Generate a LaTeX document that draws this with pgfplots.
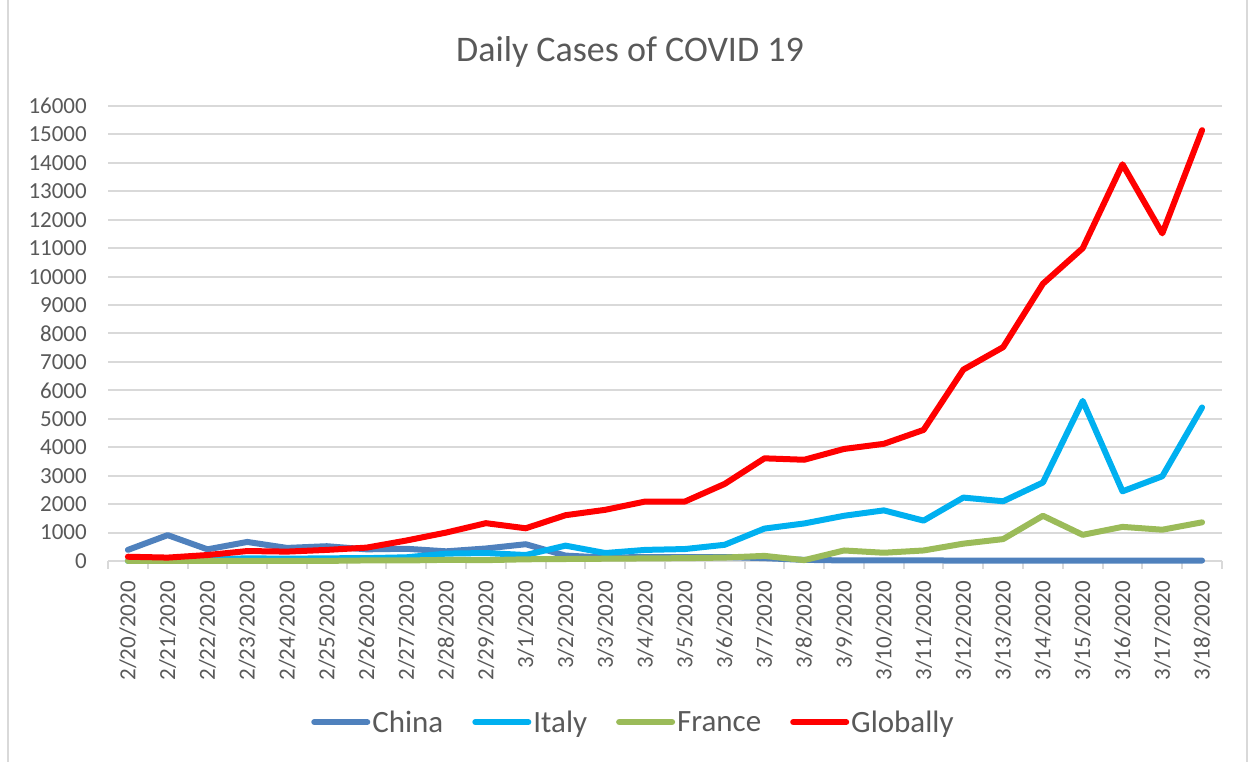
\documentclass[border=0pt]{standalone}
\usepackage{pgfplots}
\pgfplotsset{compat=1.18}
\usepackage{fontspec}
\setmainfont{Carlito}
\definecolor{txt}{HTML}{595959}
\definecolor{gridc}{HTML}{D9D9D9}
\definecolor{china}{HTML}{4F81BD}
\definecolor{italy}{HTML}{00B0F0}
\definecolor{france}{HTML}{9BBB59}
\definecolor{glob}{HTML}{FF0000}
\begin{document}
\begin{tikzpicture}[x=1pt,y=1pt]
\useasboundingbox (0,0) rectangle (1255,762);
\draw[gridc, line width=2pt] (8,0) -- (8,762);
\draw[gridc, line width=2pt] (1247,0) -- (1247,762);
\begin{axis}[
  at={(108pt,201pt)}, anchor=south west,
  scale only axis, width=1114pt, height=455pt,
  xmin=-0.5, xmax=27.5, ymin=0, ymax=16000,
  ytick distance=1000,
  ymajorgrids, grid style={gridc, line width=2pt},
  axis x line*=bottom, axis y line*=left,
  y axis line style={draw=none},
  x axis line style={gridc, line width=2pt},
  major tick length=0pt,
  xtick={0,...,27},
  xticklabels={2/20/2020,2/21/2020,2/22/2020,2/23/2020,2/24/2020,2/25/2020,2/26/2020,2/27/2020,2/28/2020,2/29/2020,3/1/2020,3/2/2020,3/3/2020,3/4/2020,3/5/2020,3/6/2020,3/7/2020,3/8/2020,3/9/2020,3/10/2020,3/11/2020,3/12/2020,3/13/2020,3/14/2020,3/15/2020,3/16/2020,3/17/2020,3/18/2020},
  extra x ticks={-0.5,0.5,...,27.5},
  extra x tick labels={},
  extra x tick style={major tick length=8pt, tick align=outside, tick style={gridc, line width=2pt}},
  tick label style={font=\fontsize{23}{26}\selectfont, text=txt},
  xticklabel style={yshift=-20pt, rotate=90, anchor=east, inner sep=0pt},
  yticklabel style={inner sep=0pt, xshift=-21pt},
  /pgf/number format/assume math mode=true,
  /pgf/number format/1000 sep={},
  scaled y ticks=false,
  clip=false,
  legend columns=4,
  legend style={at={(0.4717,-0.354)}, anchor=center, draw=none, fill=none,
    font=\fontsize{31}{34}\selectfont, text=txt,
    nodes={inner sep=2pt},
    /tikz/every even column/.append style={column sep=27pt}},
  legend image code/.code={\draw[#1, line width=6pt, line cap=round] (0pt,0pt) -- (53pt,0pt);},
  every axis plot/.append style={line width=6pt, line join=round, line cap=round},
]
\addplot[china] coordinates {(0,390)(1,910)(2,410)(3,670)(4,460)(5,520)(6,410)(7,430)(8,340)(9,440)(10,590)(11,190)(12,120)(13,140)(14,140)(15,140)(16,100)(17,40)(18,20)(19,20)(20,20)(21,15)(22,15)(23,15)(24,15)(25,15)(26,15)(27,15)};
\addlegendentry{China}
\addplot[italy] coordinates {(0,3)(1,17)(2,50)(3,95)(4,80)(5,95)(6,100)(7,130)(8,260)(9,280)(10,210)(11,540)(12,280)(13,390)(14,420)(15,570)(16,1140)(17,1320)(18,1590)(19,1780)(20,1420)(21,2230)(22,2100)(23,2760)(24,5630)(25,2450)(26,2980)(27,5400)};
\addlegendentry{Italy}
\addplot[france] coordinates {(0,0)(1,0)(2,0)(3,0)(4,2)(5,4)(6,20)(7,19)(8,40)(9,30)(10,60)(11,70)(12,80)(13,90)(14,100)(15,120)(16,180)(17,30)(18,370)(19,290)(20,370)(21,610)(22,770)(23,1590)(24,920)(25,1200)(26,1100)(27,1360)};
\addlegendentry{France}
\addplot[glob] coordinates {(0,150)(1,120)(2,210)(3,350)(4,330)(5,390)(6,470)(7,720)(8,1000)(9,1330)(10,1150)(11,1610)(12,1800)(13,2090)(14,2090)(15,2710)(16,3610)(17,3560)(18,3940)(19,4120)(20,4610)(21,6730)(22,7520)(23,9750)(24,11000)(25,13950)(26,11520)(27,15150)};
\addlegendentry{Globally}
\node[font=\fontsize{36}{40}\selectfont, text=txt] at (rel axis cs:0.4686,1.119) {Daily Cases of COVID 19};
\end{axis}
\end{tikzpicture}
\end{document}
